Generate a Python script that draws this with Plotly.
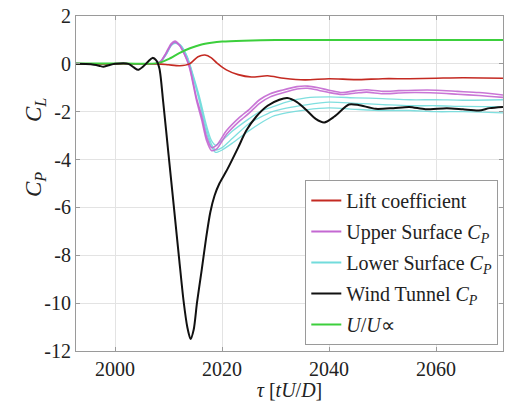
import plotly.graph_objects as go

# ---------------- data ----------------
wt_t = [1992.7, 1995.5, 1997.0, 1997.8, 1998.8, 2000.0, 2002.5, 2003.5, 2004.3, 2005.2, 2006.2, 2007.0,
        2007.7, 2008.3, 2009.0, 2010.0, 2011.0, 2012.0, 2012.8, 2013.5, 2014.1, 2014.7, 2015.3, 2016.2,
        2017.0, 2017.8, 2018.6, 2019.5, 2021.0, 2023.0, 2024.5, 2026.4, 2028.5, 2030.7, 2032.2, 2034.0,
        2035.7, 2037.5, 2039.1, 2041.0, 2043.7, 2045.5, 2048.7, 2052.0, 2055.0, 2058.0, 2062.0, 2065.0,
        2068.0, 2070.0, 2072.5]
wt_v = [0.0, -0.02, -0.08, -0.12, -0.06, 0.0, 0.0, -0.15, -0.25, -0.12, 0.1, 0.25,
        0.15, -0.2, -1.6, -3.8, -6.0, -8.2, -9.9, -11.0, -11.5, -11.1, -10.0, -8.6,
        -7.3, -6.2, -5.5, -5.0, -4.4, -3.5, -2.8, -2.2, -1.75, -1.5, -1.43, -1.6,
        -1.92, -2.3, -2.45, -2.2, -1.7, -1.72, -1.88, -1.85, -1.8, -1.9, -1.85, -1.9,
        -1.95, -1.85, -1.8]

cl_t = [1992.7, 2000.0, 2008.0, 2010.0, 2012.1, 2013.9, 2015.5, 2016.8, 2018.0, 2019.0, 2020.8, 2023.0,
        2025.5, 2028.5, 2031.5, 2035.5, 2040.0, 2045.0, 2050.0, 2055.0, 2060.0, 2065.0, 2072.5]
cl_v = [0.0, 0.0, 0.0, -0.04, -0.08, 0.0, 0.3, 0.37, 0.25, 0.04, -0.25, -0.45,
        -0.55, -0.5, -0.6, -0.67, -0.62, -0.66, -0.62, -0.62, -0.6, -0.58, -0.6]

up_t = [1992.7, 2000.0, 2007.5, 2008.5, 2009.5, 2010.5, 2011.2, 2012.0, 2013.0, 2013.9, 2015.2, 2016.2,
        2017.1, 2018.0, 2019.0, 2020.8, 2023.2, 2025.1, 2027.0, 2029.0, 2031.2, 2034.0, 2036.0, 2038.0,
        2040.0, 2042.4, 2045.0, 2047.0, 2050.0, 2053.0, 2056.0, 2060.0, 2064.0, 2068.0, 2072.5]
up1_v = [0.0, 0.0, 0.0, 0.1, 0.45, 0.85, 0.95, 0.8, 0.4, -0.1, -1.4, -2.2,
         -3.05, -3.5, -3.4, -2.8, -2.25, -1.9, -1.5, -1.25, -1.1, -0.95, -0.93, -1.0,
         -1.1, -1.2, -1.12, -1.08, -1.15, -1.12, -1.1, -1.1, -1.15, -1.2, -1.3]
up2_v = [0.0, 0.0, 0.0, 0.1, 0.42, 0.8, 0.9, 0.78, 0.38, -0.15, -1.5, -2.35,
         -3.2, -3.62, -3.55, -2.95, -2.4, -2.05, -1.65, -1.38, -1.22, -1.05, -1.02, -1.1,
         -1.2, -1.28, -1.22, -1.18, -1.25, -1.22, -1.2, -1.22, -1.27, -1.32, -1.4]

lo_t = [1992.7, 2000.0, 2007.5, 2008.5, 2009.5, 2010.5, 2011.2, 2012.2, 2013.5, 2014.5, 2015.8, 2017.0,
        2018.0, 2018.8, 2020.0, 2022.0, 2025.0, 2027.0, 2029.4, 2032.0, 2035.7, 2040.0, 2045.0, 2050.0,
        2055.0, 2060.0, 2065.0, 2072.5]
lo1_v = [0.0, 0.0, 0.0, 0.08, 0.4, 0.8, 0.9, 0.8, 0.3, -0.4, -1.4, -2.5,
         -3.2, -3.4, -3.2, -2.8, -2.3, -2.0, -1.8, -1.6, -1.42, -1.38, -1.42, -1.45,
         -1.5, -1.5, -1.52, -1.5]
lo2_v = [0.0, 0.0, 0.0, 0.08, 0.38, 0.78, 0.88, 0.78, 0.28, -0.45, -1.5, -2.65,
         -3.35, -3.6, -3.5, -3.1, -2.5, -2.25, -2.0, -1.85, -1.71, -1.6, -1.65, -1.7,
         -1.75, -1.75, -1.78, -1.8]
lo3_v = [0.0, 0.0, 0.0, 0.08, 0.36, 0.76, 0.86, 0.76, 0.25, -0.5, -1.6, -2.8,
         -3.45, -3.7, -3.6, -3.3, -2.8, -2.5, -2.2, -2.05, -1.92, -1.84, -1.9, -1.95,
         -1.95, -2.0, -2.0, -2.05]

u_t = [1992.7, 2000.0, 2008.0, 2010.0, 2012.0, 2014.0, 2016.0, 2018.0, 2020.0, 2024.0, 2030.0, 2040.0, 2072.5]
u_v = [0.02, 0.02, 0.03, 0.2, 0.45, 0.65, 0.8, 0.88, 0.93, 0.97, 1.0, 1.0, 1.0]

x_ticks = [2000, 2020, 2040, 2060]
y_ticks = [-12, -10, -8, -6, -4, -2, 0, 2]
y_ticktext = ["-12", "-10", "-8", "-6", "-4", "-2", "0", "2"]

legend_names = ["Lift coefficient", "Upper Surface <i>C<sub>P</sub></i>", "Lower Surface <i>C<sub>P</sub></i>",
                "Wind Tunnel <i>C<sub>P</sub></i>", "<i>U</i>/<i>U</i>∝"]

# ---------------- figure ----------------
FONT = "Liberation Serif"
TXT = "#222222"
RED = "#c42a22"
PURPLE = "#c468d2"
CYAN = "#72dcdc"
BLACK = "#111111"
GREEN = "#3ccf3c"
colors = [RED, PURPLE, CYAN, BLACK, GREEN]

fig = go.Figure()

for i, (nm, col) in enumerate(zip(legend_names, colors)):
    fig.add_trace(go.Scatter(x=[None], y=[None], mode="lines", name=nm, legendgroup="g%d" % i,
                             showlegend=True, line=dict(color=col, width=2)))

def add(t, v, color, width, shape="spline", opacity=1.0):
    fig.add_trace(go.Scatter(
        x=t, y=v, mode="lines", showlegend=False, hoverinfo="skip",
        line=dict(color=color, width=width, shape=shape, smoothing=0.7),
        opacity=opacity))

add(lo_t, lo3_v, CYAN, 1.3, opacity=0.9)
add(lo_t, lo2_v, CYAN, 1.3, opacity=0.9)
add(lo_t, lo1_v, CYAN, 1.3, opacity=0.9)
add(up_t, up2_v, PURPLE, 1.6, opacity=0.9)
add(up_t, up1_v, PURPLE, 1.6, opacity=0.9)
add(cl_t, cl_v, RED, 1.6)
add(u_t, u_v, GREEN, 2.0)
add(wt_t, wt_v, BLACK, 2.0)

axis_common = dict(
    showgrid=True, gridcolor="#e3e3e3", gridwidth=1,
    showline=True, linecolor="#9a9a9a", linewidth=1, mirror="ticks",
    ticks="inside", ticklen=4, tickcolor="#9a9a9a",
    zeroline=False,
    tickfont=dict(family=FONT, size=20, color=TXT),
)

fig.update_layout(
    width=505, height=401,
    margin=dict(l=76, r=2, t=16, b=50),
    paper_bgcolor="white", plot_bgcolor="white",
    font=dict(family=FONT, color=TXT),
    xaxis=dict(range=[1992.7, 2072.5], tickvals=x_ticks,
               title=dict(text="<i>τ</i> [<i>tU</i>/<i>D</i>]", font=dict(family=FONT, size=20, color=TXT),
                          standoff=2),
               **axis_common),
    yaxis=dict(range=[-12, 2], tickvals=y_ticks, ticktext=y_ticktext, **axis_common),
    legend=dict(x=0.537, y=0.018, xanchor="left", yanchor="bottom",
                bgcolor="white", bordercolor="#9a9a9a", borderwidth=1,
                font=dict(family=FONT, size=20, color=TXT),
                traceorder="grouped", tracegroupgap=2, itemwidth=30),
    showlegend=True,
)

pw, ph = 505 - 76 - 2, 401 - 16 - 50
for txt, py in [("<i>C<sub>L</sub></i>", 110), ("<i>C<sub>P</sub></i>", 185)]:
    fig.add_annotation(text=txt, x=(35 - 76) / pw, y=1 - (py - 16) / ph, xref="paper", yref="paper",
                       xanchor="center", yanchor="middle",
                       showarrow=False, textangle=-90, font=dict(family=FONT, size=23, color=TXT))

fig.write_html("out.html")
